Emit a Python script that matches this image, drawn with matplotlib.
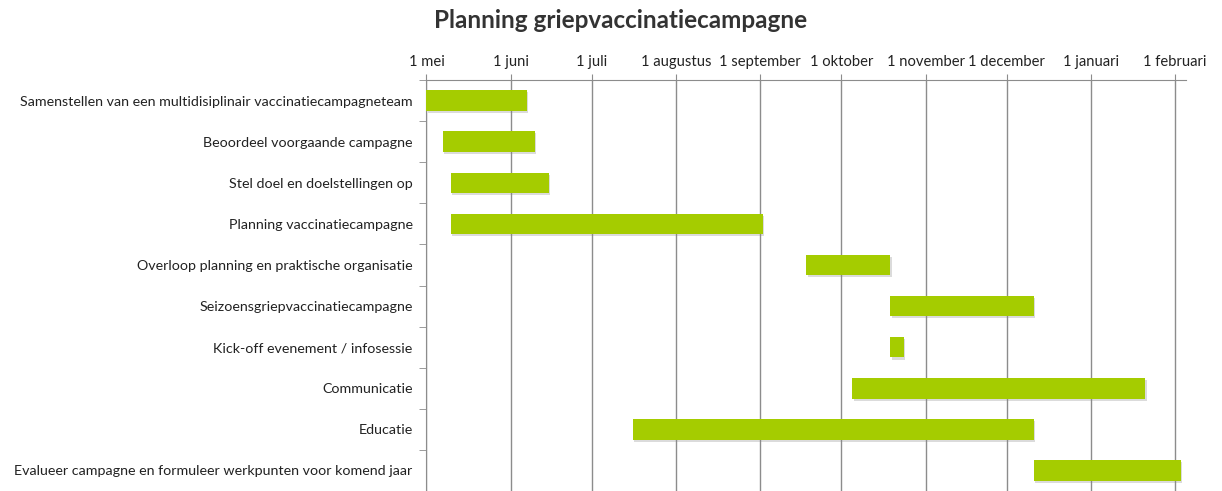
import datetime
from matplotlib import pyplot as plt
import matplotlib.dates as mdates
import matplotlib.patheffects as pe
import numpy as np

# taken van de planning, van boven naar beneden
taken = [
    "Samenstellen van een multidisiplinair vaccinatiecampagneteam",
    "Beoordeel voorgaande campagne",
    "Stel doel en doelstellingen op",
    "Planning vaccinatiecampagne",
    "Overloop planning en praktische organisatie",
    "Seizoensgriepvaccinatiecampagne",
    "Kick-off evenement / infosessie",
    "Communicatie",
    "Educatie",
    "Evalueer campagne en formuleer werkpunten voor komend jaar",
]
start = ["2013-05-01", "2013-05-07", "2013-05-10", "2013-05-10", "2013-09-18",
         "2013-10-19", "2013-10-19", "2013-10-05", "2013-07-16", "2013-12-11"]
einde = ["2013-06-07", "2013-06-10", "2013-06-15", "2013-09-02", "2013-10-19",
         "2013-12-11", "2013-10-24", "2014-01-21", "2013-12-11", "2014-02-03"]

maanden = ["1 mei", "1 juni", "1 juli", "1 augustus", "1 september", "1 oktober",
           "1 november", "1 december", "1 januari", "1 februari"]
maand_data = ["2013-05-01", "2013-06-01", "2013-07-01", "2013-08-01", "2013-09-01",
              "2013-10-01", "2013-11-01", "2013-12-01", "2014-01-01", "2014-02-01"]

plt.rcParams['font.family'] = ['Lato', 'DejaVu Sans']

def d(s):
    return mdates.date2num(datetime.datetime.strptime(s, "%Y-%m-%d"))

fig = plt.figure(figsize=(12.22, 4.91), dpi=100)
ax = fig.add_axes([0.349, 0.0, 0.6215, 0.837])

y = np.arange(len(taken))
left = np.array([d(s) for s in start])
width = np.array([d(e) for e in einde]) - left
bars = ax.barh(y, width, left=left, height=0.5, color="#A5CC00", zorder=3)
for b in bars:
    b.set_path_effects([pe.SimplePatchShadow(offset=(1, -1.5), shadow_rgbFace="#888888", alpha=0.3), pe.Normal()])

gridcol = "#8C8C8C"
ax.set_xlim(d("2013-05-01"), d("2014-02-05"))
ax.set_ylim(len(taken) - 0.5, -0.5)
ax.set_xticks([d(m) for m in maand_data])
ax.set_xticklabels(maanden, fontsize=10.6, color="#222222")
ax.xaxis.tick_top()
ax.tick_params(axis="x", direction="out", length=4, color=gridcol, pad=4)
ax.grid(axis="x", color=gridcol, linewidth=1, zorder=0)

ax.set_yticks(y)
ax.set_yticklabels(taken, fontsize=10.3, color="#222222")
ax.set_yticks(np.arange(len(taken) + 1) - 0.5, minor=True)
ax.tick_params(axis="y", which="major", length=0, pad=10)
ax.tick_params(axis="y", which="minor", length=5, color=gridcol)

for s in ["right", "bottom"]:
    ax.spines[s].set_visible(False)
for s in ["top", "left"]:
    ax.spines[s].set_color(gridcol)

fig.text(0.508, 0.958, "Planning griepvaccinatiecampagne", ha="center", va="center",
         fontsize=17.5, fontweight="bold", color="#333333")

fig.savefig("out.png", dpi=100)
